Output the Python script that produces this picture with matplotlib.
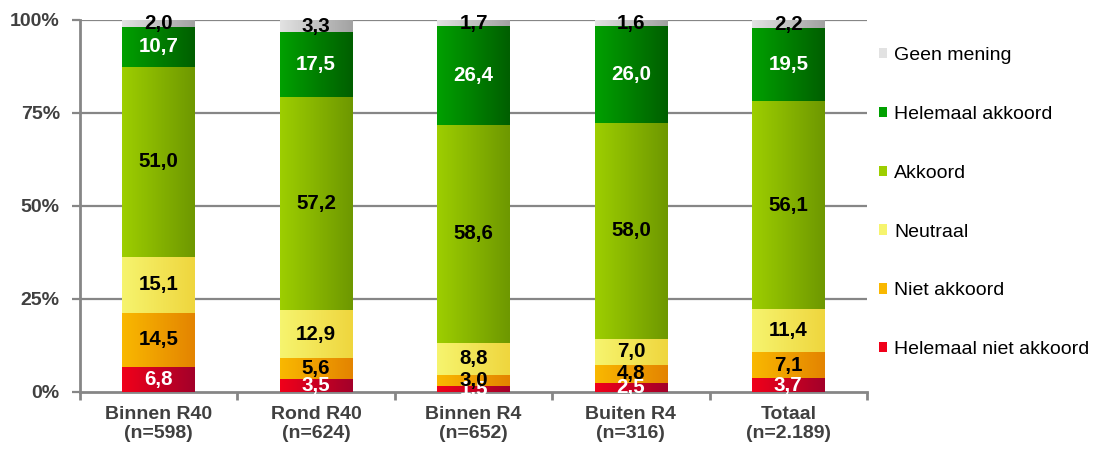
import matplotlib
matplotlib.use('Agg')
import matplotlib.pyplot as plt
import numpy as np
from matplotlib.colors import LinearSegmentedColormap
from matplotlib.patches import Patch

plt.rcParams['font.family'] = ['Liberation Sans', 'DejaVu Sans']

categories = ['Binnen R40\n(n=598)', 'Rond R40\n(n=624)', 'Binnen R4\n(n=652)',
              'Buiten R4\n(n=316)', 'Totaal\n(n=2.189)']
series = ['Helemaal niet akkoord', 'Niet akkoord', 'Neutraal', 'Akkoord',
          'Helemaal akkoord', 'Geen mening']
helemaal_niet = [6.8, 3.5, 1.5, 2.5, 3.7]
niet_akkoord = [14.5, 5.6, 3.0, 4.8, 7.1]
neutraal = [15.1, 12.9, 8.8, 7.0, 11.4]
akkoord = [51.0, 57.2, 58.6, 58.0, 56.1]
helemaal_akkoord = [10.7, 17.5, 26.4, 26.0, 19.5]
geen_mening = [2.0, 3.3, 1.7, 1.6, 2.2]
values = [helemaal_niet, niet_akkoord, neutraal, akkoord, helemaal_akkoord, geen_mening]

# gradient colours (left, right) per series
grad = [('#f0001a', '#a3002a'), ('#f9b800', '#e48400'), ('#f6f46e', '#efd63e'),
        ('#9dce00', '#6e9800'), ('#00a000', '#005f00'), ('#e2e2e2', '#a2a2a2')]
text_col = ['white', 'black', 'black', 'black', 'white', 'black']

fig = plt.figure(figsize=(11.08, 4.54), dpi=100)
ax = fig.add_axes([0.0722, 0.1366, 0.7103, 0.8194])

x = np.arange(len(categories))
width = 0.46
bottom = np.zeros(len(categories))
grad_img = np.linspace(0, 1, 64).reshape(1, -1)

for vals, (c1, c2), tc in zip(values, grad, text_col):
    vals = np.array(vals)
    cmap = LinearSegmentedColormap.from_list('g', [c1, c2])
    bars = ax.bar(x, vals, width, bottom=bottom, color=c1, zorder=3, linewidth=0)
    for b in bars:
        x0, y0 = b.get_x(), b.get_y()
        ax.imshow(grad_img, cmap=cmap, aspect='auto', zorder=3.5,
                  extent=(x0, x0 + b.get_width(), y0, y0 + b.get_height()))
    for xi, v, bt in zip(x, vals, bottom):
        ax.text(xi, bt + v / 2, f'{v:.1f}'.replace('.', ','), ha='center', va='center',
                fontsize=14.8, fontweight='bold', color=tc, zorder=5)
    bottom += vals

ax.set_xlim(-0.5, len(categories) - 0.5)
ax.set_ylim(0, 100)
ax.set_yticks([0, 25, 50, 75, 100])
ax.set_yticklabels(['0%', '25%', '50%', '75%', '100%'])
ax.set_xticks(x)
ax.set_xticklabels(categories)
ax.set_xticks(np.arange(-0.5, len(categories), 1), minor=True)

grey = '#868686'
for yv in [25, 50, 75, 100]:
    ax.axhline(yv, color=grey, linewidth=1.6, zorder=1)
for s in ['top', 'right']:
    ax.spines[s].set_visible(False)
for s in ['left', 'bottom']:
    ax.spines[s].set_color(grey)
    ax.spines[s].set_linewidth(2)
ax.tick_params(axis='x', which='major', length=0, pad=10)
ax.tick_params(axis='x', which='minor', length=6, width=2, color=grey, direction='out')
ax.tick_params(axis='y', length=6, width=1.6, color=grey, pad=8.5)
for lbl in ax.get_xticklabels() + ax.get_yticklabels():
    lbl.set_fontsize(14)
    lbl.set_fontweight('bold')
    lbl.set_color('#404040')

handles = [Patch(facecolor=c[0], edgecolor='none', label=s) for s, c in zip(series, grad)]
handles = handles[::-1]
ax.legend(handles=handles, loc='upper left', bbox_to_anchor=(1.005, 0.948), frameon=False,
          fontsize=14, handlelength=0.45, handleheight=0.45, handletextpad=0.35,
          labelspacing=2.15, borderaxespad=0)

fig.savefig('out.png', dpi=100)
